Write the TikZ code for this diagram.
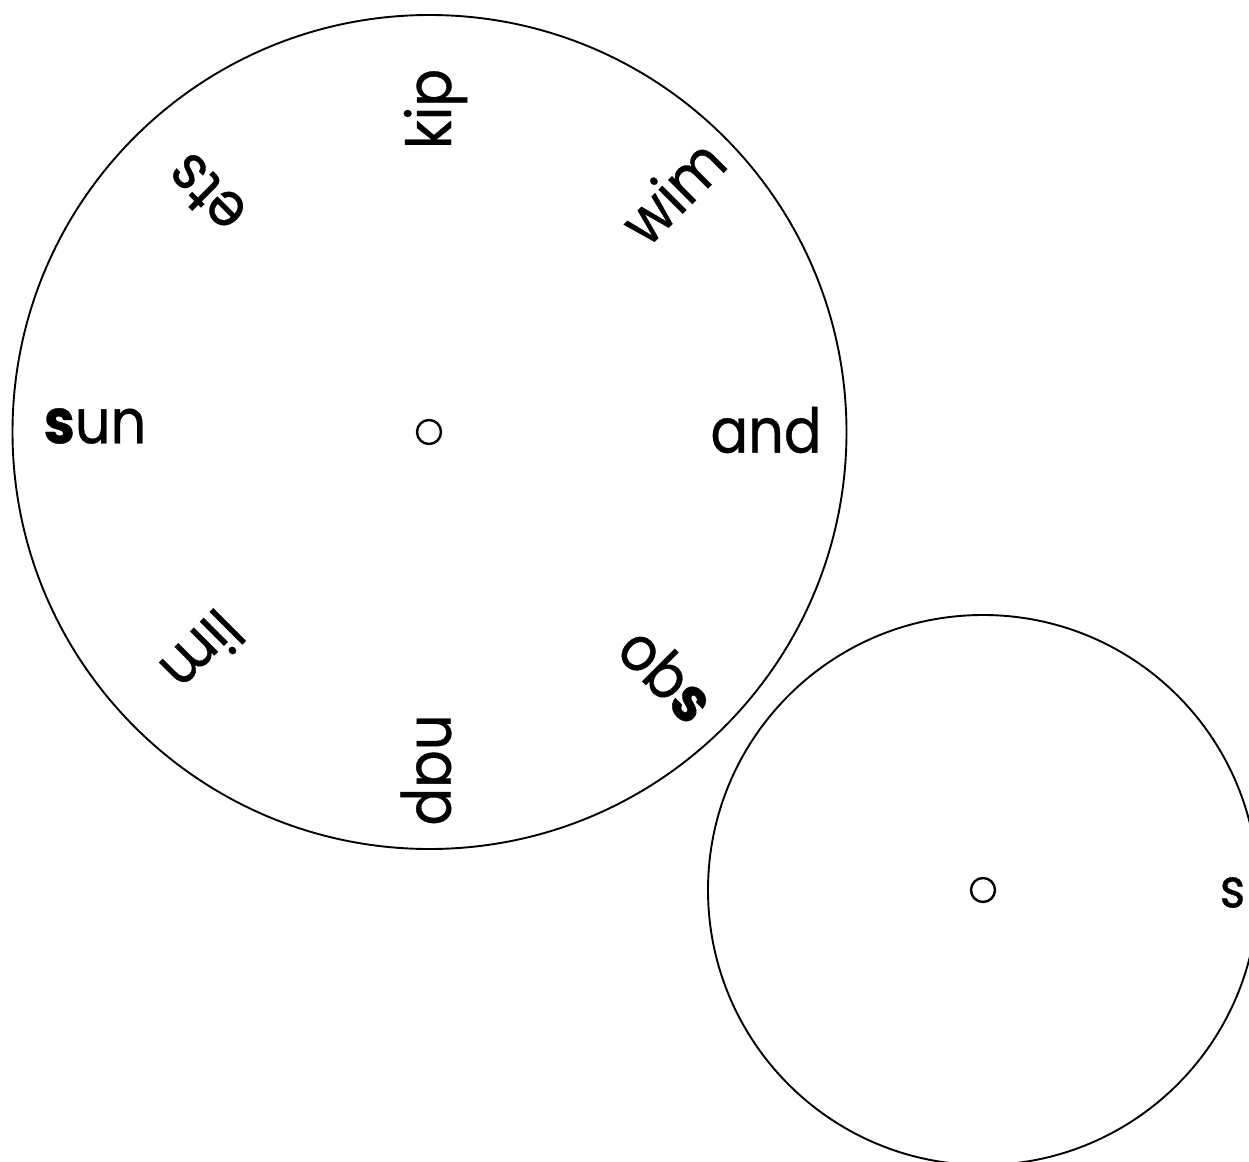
\documentclass[tikz,border=0pt]{standalone}
\usepackage{fontspec}
\setmainfont{Poppins}[FakeStretch=0.9,FakeBold=0.6]
\begin{document}
\begin{tikzpicture}[x=1pt,y=-1pt,
  wheel/.style={draw=black,line width=1.9pt},
  hub/.style={draw=black,line width=2.4pt,circle,minimum size=24pt,inner sep=0pt},
  word/.style={inner sep=0pt,font=\fontsize{62}{62}\selectfont},
  letter/.style={inner sep=0pt,font=\fontsize{54}{54}\selectfont}]
\useasboundingbox (0,0) rectangle (1249,1161);
% wheels
\draw[wheel] (429.5,432) circle[radius=417];
\draw[wheel] (983,890) circle[radius=275];
\node[hub] (hubA) at (429,432) {};
\node[hub] (hubB) at (983,890) {};
% words of the big wheel
\node[word,rotate=90]   (kip) at (435.5,109) {kip};
\node[word,rotate=45]   (wim) at (672,191) {wim};
\node[word,rotate=0]    (and) at (766,430) {and};
\node[word,rotate=-45]  (obs) at (667,674) {ob\textbf{s}};
\node[word,rotate=-90]  (nap) at (426,770) {nap};
\node[word,rotate=-135] (lim) at (203,652) {lim};
\node[word,rotate=0]    (sun) at (95,426) {\textbf{s}un};
\node[word,rotate=135]  (ets) at (206,194) {ets};
% letter of the small wheel
\node[letter] (s) at (1232.5,892.5) {s};
\end{tikzpicture}
\end{document}
